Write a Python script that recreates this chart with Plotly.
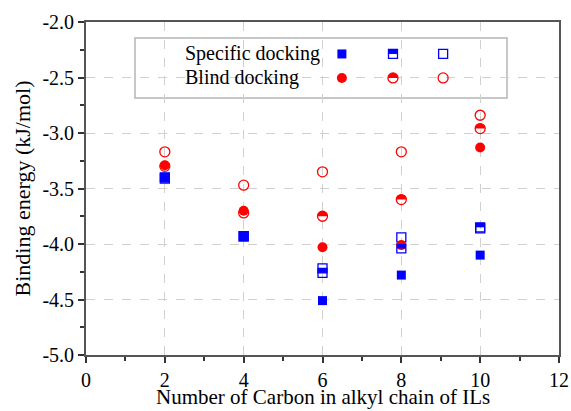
import plotly.graph_objects as go

carbon = [2, 4, 6, 8, 10]
spec_filled = [-3.40, -3.93, -4.51, -4.28, -4.10]
spec_half = [-3.40, -3.93, -4.26, -4.04, -3.85]
spec_open = [-3.41, -3.93, -4.22, -3.94, -3.86]
blind_filled = [-3.29, -3.70, -4.03, -4.01, -3.13]
blind_half = [-3.30, -3.72, -3.75, -3.60, -2.96]
blind_open = [-3.17, -3.47, -3.35, -3.17, -2.84]

legend_rows = ["Specific docking", "Blind docking"]
x_ticks = [0, 2, 4, 6, 8, 10, 12]
y_ticks = [-5.0, -4.5, -4.0, -3.5, -3.0, -2.5, -2.0]
y_tick_text = ["-5.0", "-4.5", "-4.0", "-3.5", "-3.0", "-2.5", "-2.0"]
x_title = "Number of Carbon in alkyl chain of ILs"
y_title = "Binding energy (kJ/mol)"

BLUE = "#0000ff"
RED = "#ff0000"
SERIF = "Liberation Serif"

fig = go.Figure()
shapes = []

SQ = 9      # square marker size (px)
CI = 10     # circle marker size (px)


def filled(x, y, sym, color, size, xa="x", ya="y"):
    fig.add_trace(go.Scatter(x=x, y=y, mode="markers", xaxis=xa, yaxis=ya,
                             marker=dict(symbol=sym, color=color, size=size, line=dict(width=0)),
                             showlegend=False, cliponaxis=False))


def opened(x, y, sym, color, size, xa="x", ya="y"):
    fig.add_trace(go.Scatter(x=x, y=y, mode="markers", xaxis=xa, yaxis=ya,
                             marker=dict(symbol=sym, color=color, size=size, line=dict(width=1.3, color=color)),
                             showlegend=False, cliponaxis=False))


def half_paths(kind, size):
    r = size / 2.0
    if kind == "square":
        return f"M {-r},0 L {-r},{r} L {r},{r} L {r},0 Z"
    k = 0.5523 * r
    return f"M {-r},0 C {-r},{k} {-k},{r} 0,{r} C {k},{r} {r},{k} {r},0 Z"


def half(x, y, kind, color, size, xref="x", yref="y"):
    sym = "square-open" if kind == "square" else "circle-open"
    if xref == "x":
        opened(x, y, sym, color, size)
    else:
        opened(x, y, sym, color, size, "x2", "y2")
    for xi, yi in zip(x, y):
        shapes.append(dict(type="path", xref=xref, yref=yref, xsizemode="pixel", ysizemode="pixel",
                           xanchor=xi, yanchor=yi, path=half_paths(kind, size),
                           fillcolor=color, line=dict(width=0), layer="above"))


# squares first
filled(carbon, spec_filled, "square", BLUE, SQ)
half(carbon, spec_half, "square", BLUE, SQ)
opened(carbon, spec_open, "square-open", BLUE, SQ)
# circles
filled(carbon, blind_filled, "circle", RED, CI)
half(carbon, blind_half, "circle", RED, CI)
opened(carbon, blind_open, "circle-open", RED, CI)

# custom legend (plot-area fractions)
lx = [0.541, 0.649, 0.755]
ly = [0.904, 0.832]
filled([lx[0]], [ly[0]], "square", BLUE, SQ, "x2", "y2")
half([lx[1]], [ly[0]], "square", BLUE, SQ, "x2", "y2")
opened([lx[2]], [ly[0]], "square-open", BLUE, SQ, "x2", "y2")
filled([lx[0]], [ly[1]], "circle", RED, CI, "x2", "y2")
half([lx[1]], [ly[1]], "circle", RED, CI, "x2", "y2")
opened([lx[2]], [ly[1]], "circle-open", RED, CI, "x2", "y2")

shapes.insert(0, dict(type="rect", xref="paper", yref="paper", x0=0.1036, x1=0.890, y0=0.772, y1=0.952,
                      line=dict(color="#b5b5b5", width=1.5), fillcolor="white", layer="below"))
annotations = []
for txt, yy in zip(legend_rows, ly):
    annotations.append(dict(text=txt, xref="paper", yref="paper", x=0.205, y=yy,
                            xanchor="left", yanchor="middle", showarrow=False,
                            font=dict(family=SERIF, size=20, color="black")))
# x-axis title placed as an annotation below the tick labels
annotations.append(dict(text=x_title, xref="paper", yref="paper", x=0.5, y=0,
                        xanchor="center", yanchor="middle", yshift=-42, showarrow=False,
                        font=dict(family=SERIF, size=21, color="black")))

axis_common = dict(showline=True, linecolor="#555555", linewidth=1.8, mirror=True,
                   ticks="outside", ticklen=6, tickwidth=1.5, tickcolor="#333333",
                   showgrid=True, gridcolor="#d0d0d0", griddash="dash", gridwidth=1,
                   zeroline=False, automargin=False,
                   tickfont=dict(family=SERIF, size=20, color="black"))

fig.update_layout(
    width=571, height=411,
    margin=dict(l=86, r=12, t=22, b=56),
    paper_bgcolor="white", plot_bgcolor="white",
    shapes=shapes, annotations=annotations,
    xaxis=dict(range=[0, 12], tickvals=x_ticks, ticktext=[str(v) for v in x_ticks],
               minor=dict(tickvals=[1, 3, 5, 7, 9, 11], ticks="outside", ticklen=4, tickcolor="#333333", showgrid=False),
               **axis_common),
    yaxis=dict(range=[-5.0, -2.0], tickvals=y_ticks, ticktext=y_tick_text,
               minor=dict(tickvals=[-4.75, -4.25, -3.75, -3.25, -2.75, -2.25], ticks="outside", ticklen=4, tickcolor="#333333", showgrid=False),
               title=dict(text=y_title, font=dict(family=SERIF, size=22, color="black"), standoff=6),
               **axis_common),
    xaxis2=dict(overlaying="x", range=[0, 1], visible=False, anchor="y2"),
    yaxis2=dict(overlaying="y", range=[0, 1], visible=False, anchor="x2"),
)

# remove the browser's default 8px body margin so the figure fills the window exactly
fig.write_html("out.html", config={"displayModeBar": False},
               post_script="document.body.style.margin='0';document.body.style.overflow='hidden';")
